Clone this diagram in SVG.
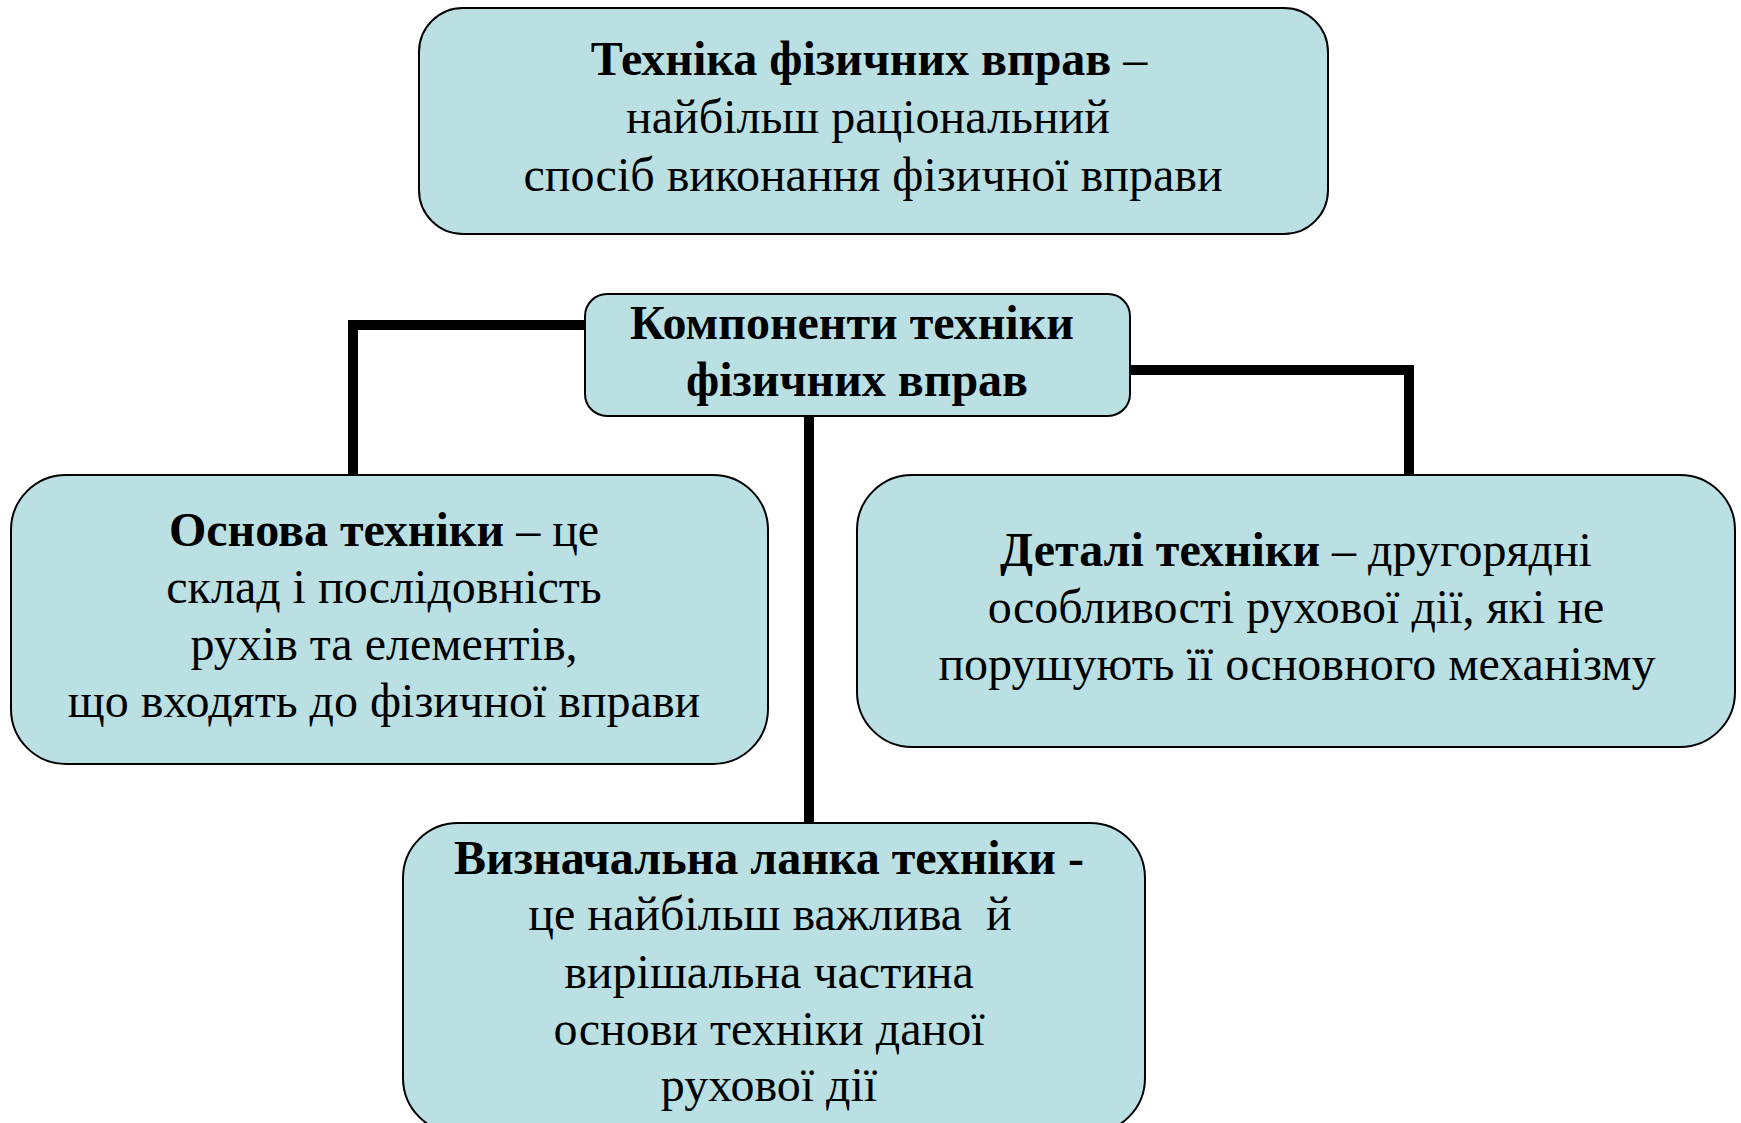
<svg xmlns="http://www.w3.org/2000/svg" width="1741" height="1123" viewBox="0 0 1741 1123">
<style>
.box{fill:#bae0e3;stroke:#000;stroke-width:2}
.t{font-family:"Liberation Serif","Times New Roman",serif;font-size:48px;fill:#000;text-anchor:middle}
.b{font-weight:bold}
.c{fill:none;stroke:#000;stroke-width:10}
</style>
<rect width="1741" height="1123" fill="#fff"/>
<g id="connectors">
<polyline class="c" points="585,325 353,325 353,475"/>
<polyline class="c" points="1130,370 1409,370 1409,475"/>
<line class="c" x1="809" y1="416" x2="809" y2="823"/>
</g>
<g id="node-top">
<rect class="box" x="419" y="8" width="909" height="226" rx="44"/>
<text class="t" x="869" y="75"><tspan class="b">Техніка фізичних вправ</tspan> –</text>
<text class="t" x="868" y="133">найбільш раціональний</text>
<text class="t" x="873" y="191">спосіб виконання фізичної вправи</text>
</g>
<g id="node-components">
<rect class="box" x="585" y="294" width="545" height="122" rx="22"/>
<text class="t b" x="852" y="339">Компоненти техніки</text>
<text class="t b" x="857" y="396">фізичних вправ</text>
</g>
<g id="node-osnova">
<rect class="box" x="11" y="475" width="757" height="289" rx="55"/>
<text class="t" x="384" y="546"><tspan class="b">Основа техніки</tspan> – це</text>
<text class="t" x="384" y="603">склад і послідовність</text>
<text class="t" x="384" y="660">рухів та елементів,</text>
<text class="t" x="384" y="717">що входять до фізичної вправи</text>
</g>
<g id="node-detali">
<rect class="box" x="857" y="475" width="878" height="272" rx="55"/>
<text class="t" x="1296" y="566"><tspan class="b">Деталі техніки</tspan> – другорядні</text>
<text class="t" x="1296" y="623">особливості рухової дії, які не</text>
<text class="t" x="1297" y="680">порушують її основного механізму</text>
</g>
<g id="node-vyznachalna">
<rect class="box" x="403" y="823" width="742" height="310" rx="55"/>
<text class="t" x="769" y="874"><tspan class="b">Визначальна ланка техніки -</tspan></text>
<text class="t" x="770" y="930">це найбільш важлива&#160; й</text>
<text class="t" x="769" y="988">вирішальна частина</text>
<text class="t" x="769" y="1045">основи техніки даної</text>
<text class="t" x="769" y="1101">рухової дії</text>
</g>
</svg>
